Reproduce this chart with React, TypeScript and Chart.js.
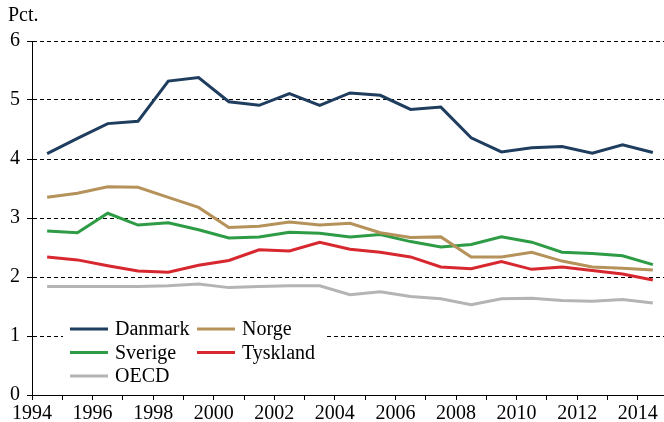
import React, { useEffect, useRef } from "react";
import { Chart, registerables } from "chart.js";

Chart.register(...registerables);

const years = [1994.5, 1995.5, 1996.5, 1997.5, 1998.5, 1999.5, 2000.5, 2001.5, 2002.5, 2003.5, 2004.5, 2005.5, 2006.5, 2007.5, 2008.5, 2009.5, 2010.5, 2011.5, 2012.5, 2013.5, 2014.5];

const danmark = [4.09, 4.35, 4.6, 4.64, 5.32, 5.38, 4.97, 4.91, 5.11, 4.91, 5.12, 5.08, 4.84, 4.88, 4.36, 4.12, 4.19, 4.21, 4.1, 4.24, 4.11];
const norge = [3.35, 3.42, 3.53, 3.52, 3.35, 3.18, 2.84, 2.86, 2.93, 2.88, 2.91, 2.75, 2.67, 2.68, 2.34, 2.34, 2.42, 2.27, 2.17, 2.15, 2.12];
const sverige = [2.78, 2.75, 3.08, 2.88, 2.92, 2.8, 2.66, 2.68, 2.76, 2.74, 2.68, 2.72, 2.6, 2.51, 2.55, 2.68, 2.59, 2.42, 2.4, 2.36, 2.21];
const tyskland = [2.34, 2.29, 2.19, 2.1, 2.08, 2.2, 2.28, 2.46, 2.44, 2.59, 2.47, 2.42, 2.34, 2.17, 2.14, 2.26, 2.13, 2.17, 2.11, 2.05, 1.95];
const oecd = [1.84, 1.84, 1.84, 1.84, 1.85, 1.88, 1.82, 1.84, 1.85, 1.85, 1.7, 1.75, 1.67, 1.63, 1.53, 1.63, 1.64, 1.6, 1.59, 1.62, 1.56];

const seriesNames = ["Danmark", "Norge", "Sverige", "Tyskland", "OECD"];
const seriesValues = [danmark, norge, sverige, tyskland, oecd];
const seriesColors = ["#1f3d5e", "#b5925a", "#2e9b45", "#d7282f", "#b4b4b4"];

const yAxisTitle = "Pct.";
const xMin = 1994;
const xMax = 2015;
const yMin = 0;
const yMax = 6;

const FONT = '"Liberation Serif", "DejaVu Serif", serif';

const extrasPlugin = {
  id: "extras",
  afterDraw(chart: any) {
    const ctx = chart.ctx;
    const area = chart.chartArea;
    ctx.save();
    ctx.font = `20px ${FONT}`;
    ctx.fillStyle = "#000";
    ctx.textBaseline = "middle";
    ctx.textAlign = "left";
    ctx.fillText(yAxisTitle, 8, 16);

    const lx = area.left + 31;
    const ly = 316;
    ctx.fillStyle = "#fff";
    ctx.fillRect(lx, ly, 263, 72);
    seriesNames.forEach((name, i) => {
      const col = i % 2;
      const row = Math.floor(i / 2);
      const sx = area.left + 38 + col * 127;
      const sy = 329 + row * 23.5;
      ctx.strokeStyle = seriesColors[i];
      ctx.lineWidth = 3;
      ctx.beginPath();
      ctx.moveTo(sx, sy);
      ctx.lineTo(sx + 38, sy);
      ctx.stroke();
      ctx.fillStyle = "#000";
      ctx.fillText(name, sx + 45, sy + 1);
    });
    ctx.restore();
  },
};

export default function App() {
  const canvasRef = useRef<HTMLCanvasElement | null>(null);

  useEffect(() => {
    let chart: any = null;
    let cancelled = false;
    const build = () => {
      const canvas = canvasRef.current;
      if (!canvas || cancelled) return;
      Chart.defaults.font.family = FONT;
      chart = new Chart(canvas, {
        type: "line",
        data: {
          datasets: seriesNames.map((name, i) => ({
            label: name,
            data: years.map((x, j) => ({ x, y: seriesValues[i][j] })),
            borderColor: seriesColors[i],
            backgroundColor: seriesColors[i],
            borderWidth: 3,
            pointRadius: 0,
            tension: 0,
            fill: false,
          })),
        },
        options: {
          responsive: false,
          animation: false,
          devicePixelRatio: 1,
          layout: { padding: { top: 41, left: 0, right: 0, bottom: 0 } },
          plugins: {
            legend: { display: false },
            tooltip: { enabled: false },
            title: { display: false },
          },
          scales: {
            x: {
              type: "linear",
              min: xMin,
              max: xMax,
              afterFit(scale: any) {
                scale.height = 27;
              },
              afterBuildTicks(scale: any) {
                const t = [];
                for (let v = xMin; v <= xMax; v++) t.push({ value: v });
                scale.ticks = t;
              },
              ticks: {
                autoSkip: false,
                maxRotation: 0,
                minRotation: 0,
                padding: 2,
                color: "#000",
                font: { size: 20, family: FONT },
                callback: (v: any) => (Number(v) % 2 === 0 ? String(v) : ""),
              },
              grid: {
                drawOnChartArea: false,
                drawTicks: true,
                tickLength: 5,
                tickColor: "#000",
                tickWidth: 1,
              },
              border: { display: true, color: "#000", width: 1 },
            },
            y: {
              min: yMin,
              max: yMax,
              afterFit(scale: any) {
                scale.width = 32;
              },
              ticks: {
                stepSize: 1,
                padding: 7,
                color: "#000",
                font: { size: 20, family: FONT },
              },
              grid: {
                color: "#000",
                lineWidth: 1,
                drawTicks: true,
                tickLength: 5,
                tickColor: "#000",
                tickBorderDash: [],
              },
              border: { display: true, color: "#000", width: 1, dash: [4, 3] },
            },
          },
        },
        plugins: [extrasPlugin],
      });
    };
    const fonts: any = (document as any).fonts;
    if (fonts && fonts.load) {
      fonts
        .load('20px "Liberation Serif"')
        .then(build, build);
    } else {
      build();
    }
    return () => {
      cancelled = true;
      if (chart) chart.destroy();
    };
  }, []);

  return (
    <div style={{ position: "fixed", left: 0, top: 0, width: 664, height: 422, overflow: "hidden", background: "#fff" }}>
      <span style={{ fontFamily: FONT, position: "absolute", left: -1000, top: 0 }}>Pct.</span>
      <canvas ref={canvasRef} width={670} height={422} style={{ display: "block" }} />
    </div>
  );
}
